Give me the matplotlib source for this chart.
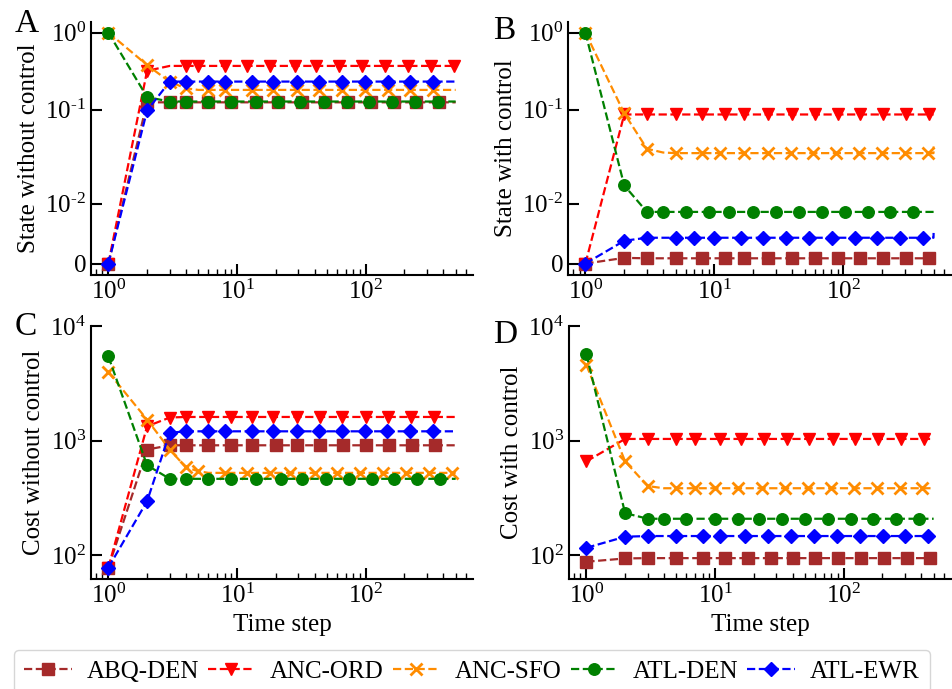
import numpy as np
import matplotlib
matplotlib.use('Agg')
import matplotlib.pyplot as plt
from matplotlib.ticker import NullLocator, FixedLocator, FixedFormatter

plt.rcParams['font.family'] = ['Liberation Serif', 'DejaVu Serif']
plt.rcParams['mathtext.fontset'] = 'custom'
plt.rcParams['mathtext.rm'] = 'Liberation Serif'
plt.rcParams['mathtext.it'] = 'Liberation Serif:italic'
plt.rcParams['mathtext.bf'] = 'Liberation Serif:bold'
plt.rcParams['axes.unicode_minus'] = False

# ---------------- data ----------------
routes = ['ABQ-DEN', 'ANC-ORD', 'ANC-SFO', 'ATL-DEN', 'ATL-EWR']
colors = ['brown', 'red', 'darkorange', 'green', 'blue']
markers = ['s', 'v', 'x', 'o', 'D']
n_steps = 500
time_steps = np.arange(1, n_steps + 1)

# Panel A: state without control (initial transient values, steady value)
state_nc_abq = [0.0, 0.125];                 state_nc_abq_ss = 0.125
state_nc_ord = [0.0, 0.32];                  state_nc_ord_ss = 0.37
state_nc_sfo = [1.0, 0.38, 0.23, 0.19];      state_nc_sfo_ss = 0.181
state_nc_den = [1.0, 0.146];                 state_nc_den_ss = 0.128
state_nc_ewr = [0.0, 0.098];                 state_nc_ewr_ss = 0.232

# Panel B: state with control
state_c_abq = [0.0, 0.00095];                state_c_abq_ss = 0.00088
state_c_ord = [0.0, 0.087];                  state_c_ord_ss = 0.087
state_c_sfo = [1.0, 0.09, 0.0313, 0.028];    state_c_sfo_ss = 0.0275; state_c_sfo_end = [0.0335]
state_c_den = [1.0, 0.013];                  state_c_den_ss = 0.0086
state_c_ewr = [0.0, 0.0038];                 state_c_ewr_ss = 0.0043; state_c_ewr_end = [0.0051]

# Panel C: cost without control
cost_nc_abq = [78, 835];                     cost_nc_abq_ss = 910
cost_nc_ord = [78, 1333, 1590];              cost_nc_ord_ss = 1608
cost_nc_sfo = [3960, 1524, 835, 585, 541];   cost_nc_sfo_ss = 523
cost_nc_den = [5420, 609, 464];              cost_nc_den_ss = 464
cost_nc_ewr = [78, 296, 1170];               cost_nc_ewr_ss = 1205

# Panel D: cost with control
cost_c_abq = [87.7, 93.7];                   cost_c_abq_ss = 94.3
cost_c_ord = [659];                          cost_c_ord_ss = 1034
cost_c_sfo = [4580, 659, 401];               cost_c_sfo_ss = 384
cost_c_den = [5665, 233, 208];               cost_c_den_ss = 208
cost_c_ewr = [116, 145];                     cost_c_ewr_ss = 147

panel_letters = ['A', 'B', 'C', 'D']
ylabels = ['State without control', 'State with control',
           'Cost without control', 'Cost with control']
xlabel = 'Time step'
sym_ticks = [0, 0.01, 0.1, 1]
sym_ticklabels = ['0', r'$10^{\text{-}2}$', r'$10^{\text{-}1}$', r'$10^{0}$']


def series(head, steady, tail=()):
    head = list(head)
    tail = list(tail)
    return np.array(head + [steady] * (n_steps - len(head) - len(tail)) + tail, dtype=float)


panelA = [series(state_nc_abq, state_nc_abq_ss), series(state_nc_ord, state_nc_ord_ss),
          series(state_nc_sfo, state_nc_sfo_ss), series(state_nc_den, state_nc_den_ss),
          series(state_nc_ewr, state_nc_ewr_ss)]
panelB = [series(state_c_abq, state_c_abq_ss), series(state_c_ord, state_c_ord_ss),
          series(state_c_sfo, state_c_sfo_ss, state_c_sfo_end), series(state_c_den, state_c_den_ss),
          series(state_c_ewr, state_c_ewr_ss, state_c_ewr_end)]
panelC = [series(cost_nc_abq, cost_nc_abq_ss), series(cost_nc_ord, cost_nc_ord_ss),
          series(cost_nc_sfo, cost_nc_sfo_ss), series(cost_nc_den, cost_nc_den_ss),
          series(cost_nc_ewr, cost_nc_ewr_ss)]
panelD = [series(cost_c_abq, cost_c_abq_ss), series(cost_c_ord, cost_c_ord_ss),
          series(cost_c_sfo, cost_c_sfo_ss), series(cost_c_den, cost_c_den_ss),
          series(cost_c_ewr, cost_c_ewr_ss)]

# ---------------- figure ----------------
W, H = 952, 689
fig = plt.figure(figsize=(W / 100, H / 100), dpi=100)


def px_axes(left, top, right, bottom):
    return fig.add_axes([left / W, 1 - bottom / H, (right - left) / W, (bottom - top) / H])


axA = px_axes(91, 22, 473, 275)
axB = px_axes(568, 22, 951, 275)
axC = px_axes(91, 326, 473, 579)
axD = px_axes(569, 326, 951, 579)
axes = [axA, axB, axC, axD]
panels = [panelA, panelB, panelC, panelD]

FS = 18
for i, (ax, data) in enumerate(zip(axes, panels)):
    for name, c, m, y in zip(routes, colors, markers, data):
        ax.plot(time_steps, y, linestyle='--', color=c, marker=m,
                markersize=7.5 if m == 'D' else 8.3,
                markeredgewidth=2 if m == 'x' else 1.0, linewidth=1.6,
                markevery=0.05, label=name)
    ax.set_xscale('log')
    ax.set_xlim(0.733, 682)
    if i < 2:
        ax.set_yscale('symlog', linthresh=0.015, linscale=1.05)
        ax.set_ylim(-0.0019, 1.37)
        ax.yaxis.set_major_locator(FixedLocator(sym_ticks))
        ax.yaxis.set_major_formatter(FixedFormatter(sym_ticklabels))
        ax.yaxis.set_minor_locator(NullLocator())
    else:
        ax.set_yscale('log')
        ax.set_ylim(62, 1e4)
        ax.yaxis.set_minor_locator(NullLocator())
        ax.set_xlabel(xlabel, fontsize=FS)
    ax.set_ylabel(ylabels[i], fontsize=FS)
    for s in ['top', 'right']:
        ax.spines[s].set_visible(False)
    for s in ['left', 'bottom']:
        ax.spines[s].set_linewidth(1.5)
    ax.tick_params(which='major', direction='in', length=8, width=1.5, labelsize=FS)
    ax.tick_params(which='minor', direction='in', length=4, width=1.0)

# panel letters
fig.text(15 / W, 1 - 32 / H, 'A', fontsize=24, va='baseline', ha='left')
fig.text(493 / W, 1 - 39 / H, 'B', fontsize=24, va='baseline', ha='left')
fig.text(15 / W, 1 - 335 / H, 'C', fontsize=24, va='baseline', ha='left')
fig.text(493 / W, 1 - 343 / H, 'D', fontsize=24, va='baseline', ha='left')

handles, labels = axA.get_legend_handles_labels()
fig.legend(handles, labels, loc='upper left', bbox_to_anchor=(14 / W, 1 - 650 / H),
           bbox_transform=fig.transFigure, ncol=5, fontsize=FS, borderaxespad=0,
           handletextpad=0.6, columnspacing=0.35, handlelength=1.9)

fig.savefig('out.png', dpi=100)
